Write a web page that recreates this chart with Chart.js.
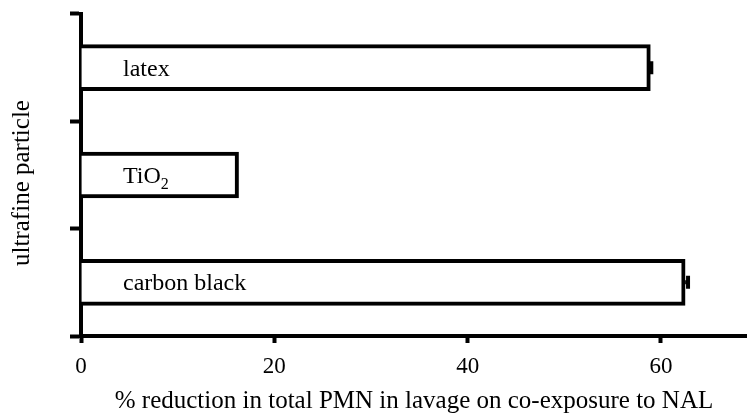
<!DOCTYPE html>
<html>
<head>
<meta charset="utf-8">
<script src="https://cdn.jsdelivr.net/npm/chart.js@4.4.0/dist/chart.umd.min.js"></script>
<style>
  html, body { margin: 0; padding: 0; background: #fff; }
  #wrap { width: 747px; height: 419px; }
</style>
</head>
<body>
<div id="wrap"><canvas id="pmnChart"></canvas></div>
<script>
const particles = ['latex', 'TiO2', 'carbon black'];
const reduction = [58.9, 16.3, 62.5];
const reductionErr = [0.1, 0, 0.3];
const xTicks = [0, 20, 40, 60];

const serif = "'Liberation Serif', 'Times New Roman', serif";

// labels written inside each bar, with subscript for TiO2
const barLabels = {
  id: 'barLabels',
  afterDatasetsDraw(chart) {
    const ctx = chart.ctx;
    const xScale = chart.scales.x;
    const meta = chart.getDatasetMeta(0);
    ctx.save();
    ctx.fillStyle = '#000';
    ctx.textBaseline = 'alphabetic';
    ctx.textAlign = 'left';
    meta.data.forEach((bar, i) => {
      const x = xScale.getPixelForValue(0) + 42;
      const y = bar.y + 8;
      const name = particles[i];
      if (name === 'TiO2') {
        ctx.font = '24px ' + serif;
        ctx.fillText('TiO', x, y);
        const w = ctx.measureText('TiO').width;
        ctx.font = '16px ' + serif;
        ctx.fillText('2', x + w, y + 6);
      } else {
        ctx.font = '24px ' + serif;
        ctx.fillText(name, x, y);
      }
    });
    ctx.restore();
  }
};

// small error bars at the end of each bar
const errorBars = {
  id: 'errorBars',
  afterDatasetsDraw(chart) {
    const ctx = chart.ctx;
    const xScale = chart.scales.x;
    const meta = chart.getDatasetMeta(0);
    ctx.save();
    ctx.strokeStyle = '#000';
    ctx.lineWidth = 4;
    meta.data.forEach((bar, i) => {
      if (!reductionErr[i]) return;
      const x0 = xScale.getPixelForValue(reduction[i]);
      const x1 = xScale.getPixelForValue(reduction[i] + reductionErr[i]);
      ctx.beginPath();
      ctx.moveTo(x0, bar.y);
      ctx.lineTo(x1, bar.y);
      ctx.moveTo(x1, bar.y - 6.5);
      ctx.lineTo(x1, bar.y + 6.5);
      ctx.stroke();
    });
    ctx.restore();
  }
};

// y title, drawn a little below the middle of the axis like the original
const yTitle = {
  id: 'yTitle',
  afterDraw(chart) {
    const ctx = chart.ctx;
    const area = chart.chartArea;
    ctx.save();
    ctx.translate(22, (area.top + area.bottom) / 2 + 8);
    ctx.rotate(-Math.PI / 2);
    ctx.fillStyle = '#000';
    ctx.font = '25px ' + serif;
    ctx.textAlign = 'center';
    ctx.textBaseline = 'middle';
    ctx.fillText('ultrafine particle', 0, 0);
    ctx.restore();
  }
};

new Chart(document.getElementById('pmnChart'), {
  type: 'bar',
  data: {
    labels: particles,
    datasets: [{
      data: reduction,
      backgroundColor: '#fff',
      borderColor: '#000',
      borderWidth: 4,
      barThickness: 46
    }]
  },
  options: {
    indexAxis: 'y',
    responsive: true,
    maintainAspectRatio: false,
    animation: false,
    layout: { padding: { top: 14, right: 0, bottom: 0, left: 0 } },
    plugins: {
      legend: { display: false },
      tooltip: { enabled: false }
    },
    scales: {
      x: {
        min: 0,
        max: 68.9,
        afterBuildTicks(scale) {
          scale.ticks = xTicks.map(v => ({ value: v }));
        },
        afterFit(scale) { scale.height = 83; },
        grid: {
          drawOnChartArea: false,
          drawTicks: true,
          tickLength: 7,
          tickWidth: 4,
          tickColor: '#000'
        },
        border: { display: true, color: '#000', width: 4 },
        ticks: {
          color: '#000',
          padding: 10,
          font: { family: serif, size: 23 }
        },
        title: {
          display: true,
          text: '% reduction in total PMN in lavage on co-exposure to NAL',
          color: '#000',
          font: { family: serif, size: 25 },
          padding: { top: 0, bottom: 3 }
        }
      },
      y: {
        afterFit(scale) { scale.width = 81; },
        grid: {
          drawOnChartArea: false,
          drawTicks: true,
          tickLength: 11,
          tickWidth: 4,
          tickColor: '#000'
        },
        border: { display: true, color: '#000', width: 4 },
        ticks: { display: false },
        title: { display: false }
      }
    }
  },
  plugins: [barLabels, errorBars, yTitle]
});
</script>
</body>
</html>
